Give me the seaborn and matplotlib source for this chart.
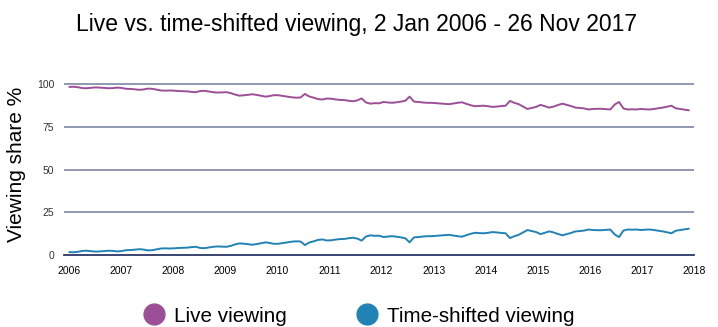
import pandas as pd
import numpy as np
import matplotlib
matplotlib.use("Agg")
import matplotlib.pyplot as plt
import matplotlib.dates as mdates
from matplotlib.lines import Line2D
import seaborn as sns

# monthly readings, Jan 2006 - Nov 2017 (viewing share %)
time_shifted = [
    1.7, 1.6, 1.9, 2.4, 2.5, 2.2, 2.0, 2.1, 2.3, 2.5, 2.4, 2.1,      # 2006
    2.3, 2.8, 2.9, 3.1, 3.4, 3.2, 2.7, 2.8, 3.3, 3.8, 3.9, 3.8,      # 2007
    3.9, 4.1, 4.2, 4.3, 4.6, 4.8, 4.1, 4.0, 4.4, 4.8, 5.0, 4.9,      # 2008
    4.8, 5.3, 6.2, 6.8, 6.6, 6.3, 6.0, 6.4, 6.9, 7.4, 7.0, 6.5,      # 2009
    6.6, 7.0, 7.4, 7.8, 8.0, 7.9, 5.8, 7.3, 8.0, 8.8, 9.1, 8.5,      # 2010
    8.6, 9.0, 9.3, 9.4, 9.8, 10.1, 9.6, 8.4, 10.8, 11.5, 11.2, 11.3, # 2011
    10.5, 10.8, 11.0, 10.7, 10.3, 9.8, 7.4, 10.3, 10.5, 10.8, 11.0, 11.0,  # 2012
    11.2, 11.4, 11.6, 11.8, 11.4, 11.0, 10.7, 11.6, 12.4, 13.0, 12.8, 12.7,  # 2013
    13.0, 13.4, 13.2, 12.9, 12.7, 9.9, 11.0, 11.8, 13.2, 14.6, 14.0, 13.4,   # 2014
    12.2, 13.0, 13.8, 13.2, 12.3, 11.5, 12.2, 12.9, 13.8, 14.0, 14.3, 14.9,  # 2015
    14.6, 14.5, 14.5, 14.7, 14.9, 12.0, 10.5, 14.3, 14.9, 14.8, 14.9, 14.6,  # 2016
    14.8, 14.9, 14.6, 14.2, 13.8, 13.3, 12.7, 14.2, 14.6, 15.0, 15.4,        # 2017
]
live = [
    98.3, 98.4, 98.1, 97.6, 97.5, 97.8, 98.0, 97.9, 97.7, 97.5, 97.6, 97.9,
    97.7, 97.2, 97.1, 96.9, 96.6, 96.8, 97.3, 97.2, 96.7, 96.2, 96.1, 96.2,
    96.1, 95.9, 95.8, 95.7, 95.4, 95.2, 95.9, 96.0, 95.6, 95.2, 95.0, 95.1,
    95.2, 94.7, 93.8, 93.2, 93.4, 93.7, 94.0, 93.6, 93.1, 92.6, 93.0, 93.5,
    93.4, 93.0, 92.6, 92.2, 92.0, 92.1, 94.2, 92.7, 92.0, 91.2, 90.9, 91.5,
    91.4, 91.0, 90.7, 90.6, 90.2, 89.9, 90.4, 91.6, 89.2, 88.5, 88.8, 88.7,
    89.5, 89.2, 89.0, 89.3, 89.7, 90.2, 92.6, 89.7, 89.5, 89.2, 89.0, 89.0,
    88.8, 88.6, 88.4, 88.2, 88.6, 89.0, 89.3, 88.4, 87.6, 87.0, 87.2, 87.3,
    87.0, 86.6, 86.8, 87.1, 87.3, 90.1, 89.0, 88.2, 86.8, 85.4, 86.0, 86.6,
    87.8, 87.0, 86.2, 86.8, 87.7, 88.5, 87.8, 87.1, 86.2, 86.0, 85.7, 85.1,
    85.4, 85.5, 85.5, 85.3, 85.1, 88.0, 89.5, 85.7, 85.1, 85.2, 85.1, 85.4,
    85.2, 85.1, 85.4, 85.8, 86.2, 86.7, 87.3, 85.8, 85.4, 85.0, 84.6,
]
dates = pd.date_range("2006-01-02", "2017-11-26", periods=len(live))
series_names = ["Live viewing", "Time-shifted viewing"]
colors = ["#9c4f96", "#2183b4"]
y_ticks = [0, 25, 50, 75, 100]

df = pd.DataFrame({"date": dates, series_names[0]: live, series_names[1]: time_shifted})
long_df = df.melt(id_vars="date", var_name="series", value_name="share")

sns.set_style("white")
plt.rcParams["font.family"] = ["Liberation Sans", "DejaVu Sans"]
plt.rcParams["text.color"] = "black"
plt.rcParams["axes.labelcolor"] = "black"

fig = plt.figure(figsize=(7.18, 3.27), dpi=100)
ax = fig.add_axes([64 / 718, 1 - 255 / 327, 630 / 718, (171 / 327) * 1.02])

sns.lineplot(data=long_df, x="date", y="share", hue="series", palette=colors,
             hue_order=series_names, linewidth=1.4, legend=False, ax=ax)

ax.set_ylim(0, 102)
ax.set_xlim(pd.Timestamp("2005-11-26"), pd.Timestamp("2018-01-01"))

for v in y_ticks[1:]:
    ax.axhline(v, color="#8790aa", linewidth=1.3, zorder=0)

for s in ["top", "right", "left"]:
    ax.spines[s].set_visible(False)
ax.spines["bottom"].set_color("#2b3766")
ax.spines["bottom"].set_linewidth(1.3)

ax.set_yticks(y_ticks)
ax.set_yticklabels([str(t) for t in y_ticks], fontsize=7.5, color="#333333")
ax.tick_params(axis="y", length=0, pad=7)

ax.xaxis.set_major_locator(mdates.YearLocator())
ax.xaxis.set_major_formatter(mdates.DateFormatter("%Y"))
ax.tick_params(axis="x", direction="out", length=5, width=1.2, color="#2b3766",
               labelsize=7.5, labelcolor="black", pad=3)

ax.set_xlabel("")
ax.set_ylabel("Viewing share %", fontsize=15, labelpad=7)
ax.yaxis.set_label_coords(-0.06, 0.52)

fig.suptitle("Live vs. time-shifted viewing, 2 Jan 2006 - 26 Nov 2017",
             fontsize=16.5, x=0.497, y=0.96)

handles = [Line2D([], [], marker="o", linestyle="", markersize=15,
                  markerfacecolor=c, markeredgecolor=c) for c in colors]
fig.legend(handles, series_names, loc="center", bbox_to_anchor=(0.497, 0.033),
           ncol=2, frameon=False, fontsize=14.9, handletextpad=0.28,
           handlelength=1.4, columnspacing=3.15)

fig.savefig("out.png", dpi=100)
